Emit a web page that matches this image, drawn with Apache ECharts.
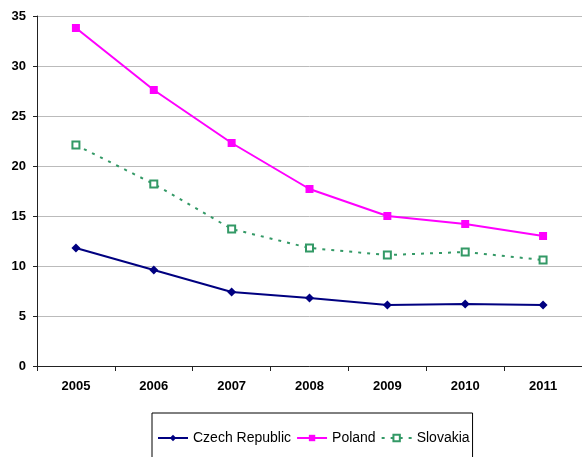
<!DOCTYPE html>
<html>
<head>
<meta charset="utf-8">
<script src="https://cdn.jsdelivr.net/npm/echarts@6/dist/echarts.min.js"></script>
<style>
  html, body { margin: 0; padding: 0; background: #fff; }
  #chart { width: 582px; height: 457px; }
</style>
</head>
<body>
<div id="chart"></div>
<script>
var years = ['2005', '2006', '2007', '2008', '2009', '2010', '2011']
var czech = [11.8, 9.6, 7.4, 6.8, 6.1, 6.2, 6.1]
var poland = [33.8, 27.6, 22.3, 17.7, 15.0, 14.2, 13.0]
var slovakia = [22.1, 18.2, 13.7, 11.8, 11.1, 11.4, 10.6]

var chart = echarts.init(document.getElementById('chart'))

var options = {
  animation: false,
  grid: {
    left: 37,
    right: -3,
    top: 16,
    bottom: 91
  },
  legend: {
    top: 413,
    left: 152,
    padding: [18, 3, 20, 5],
    borderColor: '#000',
    borderWidth: 1,
    itemGap: 5,
    itemWidth: 30,
    itemHeight: 8,
    textStyle: {
      fontFamily: 'Liberation Sans',
      fontSize: 14,
      color: '#000'
    },
    data: ['Czech Republic', 'Poland', 'Slovakia']
  },
  xAxis: {
    type: 'category',
    data: years,
    boundaryGap: true,
    axisLine: { lineStyle: { color: '#222', width: 1 } },
    axisTick: { show: true, length: 5, lineStyle: { color: '#222' } },
    axisLabel: {
      margin: 14,
      fontFamily: 'Liberation Sans',
      fontWeight: 'bold',
      fontSize: 13,
      color: '#000'
    }
  },
  yAxis: {
    type: 'value',
    min: 0,
    max: 35,
    interval: 5,
    axisLine: { show: true, lineStyle: { color: '#222', width: 1 } },
    axisTick: { show: true, length: 4, lineStyle: { color: '#222' } },
    axisLabel: {
      margin: 11,
      fontFamily: 'Liberation Sans',
      fontWeight: 'bold',
      fontSize: 13,
      color: '#000'
    },
    splitLine: {
      lineStyle: { color: '#bbb', width: 1 }
    }
  },
  series: [{
    name: 'Czech Republic',
    type: 'line',
    data: czech,
    color: '#000080',
    symbol: 'diamond',
    symbolSize: 9,
    lineStyle: { width: 2 },
    itemStyle: { color: '#000080' }
  }, {
    name: 'Poland',
    type: 'line',
    data: poland,
    color: '#ff00ff',
    symbol: 'rect',
    symbolSize: 8,
    lineStyle: { width: 2 },
    itemStyle: { color: '#ff00ff' }
  }, {
    name: 'Slovakia',
    type: 'line',
    data: slovakia,
    color: '#339966',
    symbol: 'emptyRect',
    symbolSize: 7,
    lineStyle: { width: 2, type: [3, 6] },
    itemStyle: { color: '#339966', borderWidth: 1 }
  }]
}
chart.setOption(options)
</script>
</body>
</html>
